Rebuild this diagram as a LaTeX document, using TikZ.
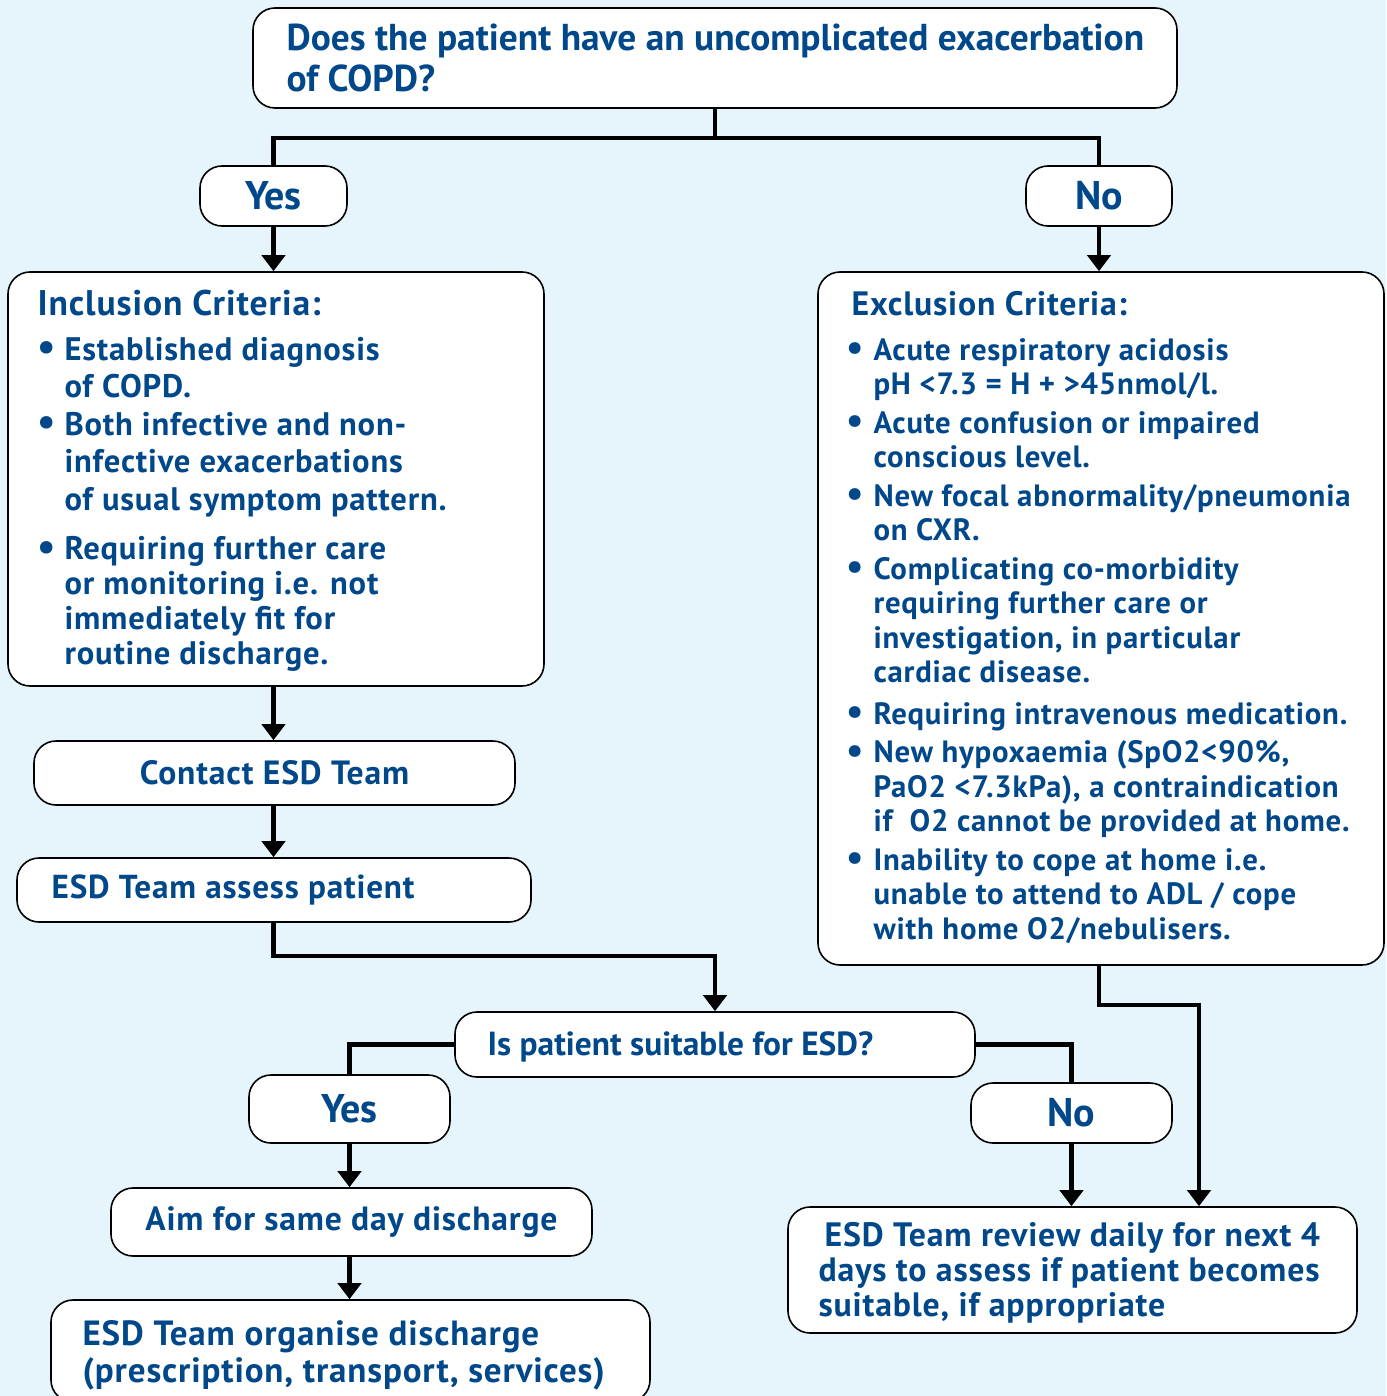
\documentclass[tikz,border=0pt]{standalone}
\usepackage{fontspec}
\usepackage{graphicx}
\setmainfont{PT Sans}[LetterSpace=2.5]
\newfontfamily\tightf{PT Sans}
\usetikzlibrary{arrows.meta}
\definecolor{bgc}{HTML}{E6F4FC}
\definecolor{txt}{HTML}{00488A}
\newcommand\bul{\makebox[13.5pt][l]{\raisebox{-0.3pt}{\scalebox{1.25}{\textbullet}}}}
\newcommand\cnt{\hspace*{13.5pt}}
\tikzset{
  box/.style={draw=black, line width=0.8pt, fill=white, rounded corners=11pt,
    text=txt, inner sep=0pt},
  ltext/.style={text=txt, inner sep=0pt, align=left, anchor=west},
  conn/.style={line width=2.3pt, draw=black},
  arr/.style={conn, -{Triangle[width=11.5pt,length=8pt]}},
  fA/.style={font=\tightf\bfseries\fontsize{18.7pt}{20.5pt}\selectfont},
  fB/.style={font=\bfseries\fontsize{16.3pt}{18.75pt}\selectfont},
  fC/.style={font=\bfseries\fontsize{15.4pt}{17.25pt}\selectfont},
  fY/.style={font=\tightf\bfseries\fontsize{20pt}{22pt}\selectfont},
}
\begin{document}
\begin{tikzpicture}[x=0.5pt,y=-0.5pt]
\fill[bgc] (0,0) rectangle (1386,1396);
\useasboundingbox (0,0) rectangle (1386,1396);

% boxes
\node[box,minimum width=462pt,minimum height=50pt] (top) at (715,58) {};
\node[ltext,fA] (topt) at ([xshift=17pt]top.west)
  {Does the patient have an uncomplicated exacerbation\\of COPD?};
\node[box,fY,minimum width=73.5pt,minimum height=30pt] (yes1) at (273.5,196) {Yes};
\node[box,fY,minimum width=73pt,minimum height=30pt] (no1) at (1099,196) {No};

\node[box,minimum width=268pt,minimum height=207pt] (incl) at (276,479) {};
\node[ltext,fB] (inclt) at ([xshift=15pt,yshift=-1pt]incl.west)
  {{\fontsize{17.8pt}{18.75pt}\selectfont Inclusion Criteria:}\\[3.5pt]
   \bul Established diagnosis\\
   \cnt of COPD.\\
   \bul Both infective and non-\\
   \cnt infective exacerbations\\
   \cnt of usual symptom pattern.\\[6pt]
   \bul Requiring further care\\[-1.25pt]
   \cnt or monitoring i.e. not\\[-1.25pt]
   \cnt immediately fit for\\[-1.25pt]
   \cnt routine discharge.};

\node[box,minimum width=283pt,minimum height=346.5pt] (excl) at (1101,618.5) {};
\node[ltext,fC] (exclt) at ([xshift=14.5pt,yshift=0.5pt]excl.west)
  {\hspace*{2.5pt}{\fontsize{16.9pt}{17.25pt}\selectfont Exclusion Criteria:}\\[5pt]
   \bul Acute respiratory acidosis\\
   \cnt pH <7.3 = H + >45nmol/l.\\[2pt]
   \bul Acute confusion or impaired\\
   \cnt conscious level.\\[2pt]
   \bul New focal abnormality/pneumonia\\
   \cnt on CXR.\\[2pt]
   \bul Complicating co-morbidity\\
   \cnt requiring further care or\\
   \cnt investigation, in particular\\
   \cnt cardiac disease.\\[3.5pt]
   \bul Requiring intravenous medication.\\[2pt]
   \bul New hypoxaemia (SpO2<90\%,\\
   \cnt PaO2 <7.3kPa), a contraindication\\
   \cnt if\ \ O2 cannot be provided at home.\\[2pt]
   \bul Inability to cope at home i.e.\\
   \cnt unable to attend to ADL / cope\\
   \cnt with home O2/nebulisers.};

\node[box,font=\bfseries\fontsize{16.8pt}{18pt}\selectfont,minimum width=240.5pt,minimum height=32pt] (contact) at (274.5,773) {Contact ESD Team};
\node[box,minimum width=257pt,minimum height=32pt] (assess) at (274,890) {};
\node[ltext,font=\bfseries\fontsize{16.6pt}{18pt}\selectfont] (assesst) at ([xshift=17.5pt]assess.west) {ESD Team assess patient};
\node[box,minimum width=260pt,minimum height=32.5pt] (suit) at (715,1044.5) {};
\node[ltext,font=\tightf\bfseries\fontsize{16.7pt}{18pt}\selectfont] (suitt) at ([xshift=16.5pt,yshift=-1pt]suit.west) {Is patient suitable for ESD?};
\node[box,fY,minimum width=100.5pt,minimum height=34pt] (yes2) at (349.5,1109) {Yes};
\node[box,fY,minimum width=100.5pt,minimum height=30pt] (no2) at (1071.5,1113) {No};
\node[box,font=\bfseries\fontsize{16.8pt}{18pt}\selectfont,minimum width=240.5pt,minimum height=34pt] (aim) at (351.5,1222) {Aim for same day discharge};
\node[box,minimum width=299.5pt,minimum height=51pt] (org) at (350.5,1351) {};
\node[ltext,font=\bfseries\fontsize{17.5pt}{18.5pt}\selectfont] (orgt) at ([xshift=16pt,yshift=-2pt]org.west)
  {ESD Team organise discharge\\(prescription, transport, services)};
\node[box,minimum width=284.5pt,minimum height=63pt] (review) at (1072.5,1270) {};
\node[ltext,font=\bfseries\fontsize{16.9pt}{17.5pt}\selectfont] (reviewt) at ([xshift=15.5pt,yshift=-1.5pt]review.west)
  {\hspace*{3pt}ESD Team review daily for next 4\\days to assess if patient becomes\\suitable, if appropriate};

% connectors
\coordinate (j1) at (715,138);
\coordinate (j2) at (715,956);
\coordinate (j3) at (1199,1005);
\draw[conn] (top.south) -- (j1);
\draw[conn] (j1) -| (yes1.north);
\draw[conn] (j1) -| (no1.north);
\draw[arr] (yes1.south) -- (yes1.south |- incl.north);
\draw[arr] (no1.south) -- (no1.south |- excl.north);
\draw[arr] (incl.south -| yes1.south) -- (contact.north -| yes1.south);
\draw[arr] (contact.south -| yes1.south) -- (assess.north -| yes1.south);
\draw[arr] (assess.south -| yes1.south) |- (j2) -- (suit.north);
\draw[conn] (suit.west) -| (yes2.north);
\draw[conn] (suit.east) -| (no2.north);
\draw[arr] (yes2.south) -- (yes2.south |- aim.north);
\draw[arr] (aim.south -| yes2.south) -- (org.north -| yes2.south);
\draw[arr] (no2.south) -- (no2.south |- review.north);
\draw[arr] (excl.south -| no1.south) |- (j3) -- (j3 |- review.north);
\end{tikzpicture}
\end{document}
